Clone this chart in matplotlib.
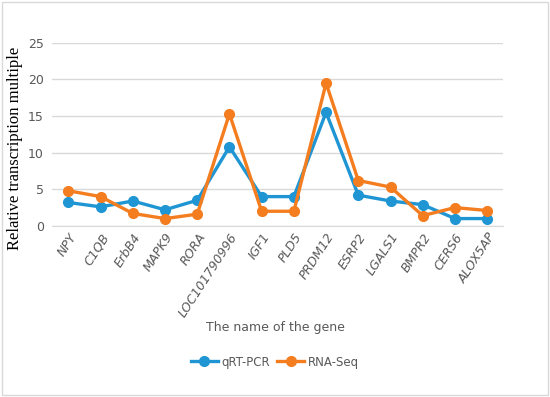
import matplotlib
matplotlib.use("Agg")
import matplotlib.pyplot as plt
from matplotlib.patches import Rectangle

genes = ["NPY", "C1QB", "ErbB4", "MAPK9", "RORA", "LOC101790996", "IGF1", "PLD5",
         "PRDM12", "ESRP2", "LGALS1", "BMPR2", "CERS6", "ALOX5AP"]
qrt_pcr = [3.2, 2.6, 3.4, 2.2, 3.5, 10.8, 4.0, 4.0, 15.5, 4.2, 3.4, 2.9, 1.0, 1.0]
rna_seq = [4.8, 4.0, 1.7, 1.0, 1.6, 15.3, 2.0, 2.0, 19.5, 6.2, 5.3, 1.4, 2.5, 2.1]
yticks = [0, 5, 10, 15, 20, 25]

gray = "#595959"
fig = plt.figure(figsize=(5.5, 3.97), dpi=100)
fig.patches.append(Rectangle((0.004, 0.004), 0.992, 0.99, transform=fig.transFigure,
                             fill=False, edgecolor="#d9d9d9", lw=1))
ax = fig.add_axes([0.095, 0.431, 0.82, 0.461])
x = list(range(len(genes)))
l1, = ax.plot(x, qrt_pcr, color="#1F96D3", lw=2.4, marker="o", ms=7, label="qRT-PCR")
l2, = ax.plot(x, rna_seq, color="#F47D20", lw=2.4, marker="o", ms=7, label="RNA-Seq")
ax.set_ylim(0, 25)
ax.set_xlim(-0.5, len(genes) - 0.5)
ax.set_yticks(yticks)
ax.grid(axis="y", color="#d9d9d9", lw=1)
ax.set_axisbelow(True)
for s in ["top", "right", "left"]:
    ax.spines[s].set_visible(False)
ax.spines["bottom"].set_color("#d9d9d9")
ax.tick_params(length=0, colors=gray, labelsize=9)
ax.tick_params(axis="y", pad=6)
ax.set_xticks(x)
ax.set_xticklabels(genes, rotation=57, ha="right", rotation_mode="anchor",
                   fontstyle="italic")
fig.text(0.028, 0.627, "Relative transcription multiple", fontfamily="Liberation Serif",
         fontsize=12, color="black", rotation=90, ha="center", va="center")
fig.text(0.5, 0.175, "The name of the gene", ha="center", va="center", fontsize=9, color=gray)
fig.legend(handles=[l1, l2], loc="center", bbox_to_anchor=(0.5, 0.088), ncol=2,
           frameon=False, fontsize=8.5, handlelength=2.3, columnspacing=0.6,
           handletextpad=0.3, labelcolor=gray)
fig.savefig("out.png", dpi=100)
